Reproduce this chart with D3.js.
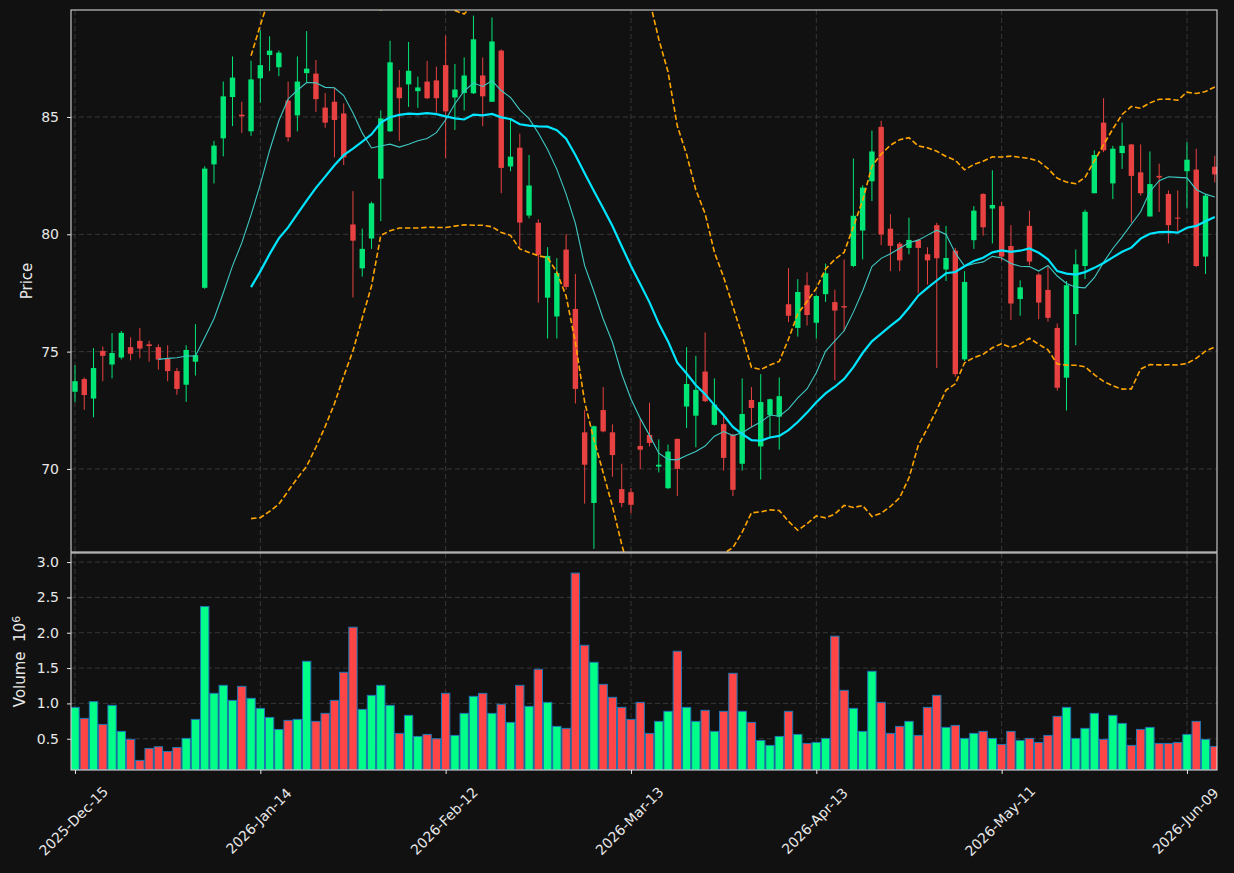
<!DOCTYPE html>
<html lang="en">
<head>
<meta charset="UTF-8">
<title>Candlestick</title>
<script src="https://cdn.jsdelivr.net/npm/d3@7"></script>
<style>
  body { margin: 0; background: #111111; }
  text { font-family: "DejaVu Sans", sans-serif; fill: #e8e8e8; }
</style>
</head>
<body>
<div id="chart"></div>
<script>
// daily bars, first session 2025-12-15
const startDay = "2025-12-15";
const holidays = ["2025-12-25", "2026-01-01", "2026-01-19", "2026-02-16", "2026-04-03", "2026-05-25"];

const open = [73.29, 73.83, 73.00, 75.03, 74.45, 74.75, 75.19, 75.46, 75.31, 75.19,
  74.70, 74.17, 73.59, 74.57, 77.72, 82.98, 84.09, 85.85, 85.10, 84.39,
  86.65, 87.64, 87.12, 85.70, 85.07, 86.87, 86.85, 85.40, 85.65, 85.15,
  80.42, 78.55, 79.82, 82.37, 84.39, 86.26, 86.39, 86.10, 86.51, 86.56,
  87.21, 85.83, 86.02, 86.01, 86.77, 85.65, 87.83, 82.89, 83.69, 80.80,
  80.49, 77.30, 76.50, 79.35, 76.82, 71.56, 68.55, 72.51, 71.56, 69.14,
  69.01, 70.98, 71.45, 70.10, 69.18, 71.28, 72.66, 72.27, 74.15, 71.88,
  71.91, 71.45, 70.22, 72.94, 70.96, 72.30, 72.23, 77.02, 76.01, 77.83,
  76.23, 77.45, 77.11, 76.94, 78.65, 80.16, 82.26, 84.58, 80.24, 79.60,
  79.42, 79.76, 79.15, 80.39, 78.50, 79.30, 74.67, 79.75, 81.72, 81.10,
  81.20, 79.50, 77.24, 80.36, 78.28, 77.63, 76.01, 73.89, 76.60, 78.65,
  81.75, 84.76, 82.17, 83.46, 83.83, 82.64, 80.76, 82.49, 81.72, 80.71,
  82.69, 82.76, 79.05, 82.88];
const high = [74.42, 73.90, 75.15, 75.22, 75.79, 75.88, 75.61, 76.01, 75.46, 75.31,
  75.27, 74.30, 75.27, 76.17, 82.90, 83.98, 86.51, 87.58, 85.65, 87.40,
  88.69, 88.44, 87.83, 86.51, 87.58, 88.66, 87.43, 86.02, 86.25, 85.58,
  81.84, 80.24, 81.39, 85.28, 88.25, 87.00, 88.20, 86.72, 87.39, 87.14,
  88.47, 87.26, 87.54, 89.32, 87.54, 89.24, 87.88, 84.87, 84.29, 83.38,
  80.64, 79.45, 78.98, 80.01, 78.31, 72.52, 71.85, 73.49, 71.90, 70.22,
  69.18, 72.15, 72.82, 71.26, 71.04, 71.30, 75.19, 74.82, 75.82, 73.86,
  72.23, 71.50, 73.86, 73.49, 74.04, 73.00, 73.90, 78.56, 78.09, 78.38,
  77.42, 78.75, 77.64, 78.93, 83.23, 82.09, 84.42, 84.84, 80.86, 79.67,
  80.71, 79.80, 79.45, 80.49, 80.36, 79.42, 78.43, 81.20, 81.75, 82.73,
  81.39, 80.39, 78.04, 81.01, 78.34, 78.63, 76.20, 78.01, 79.35, 81.05,
  83.58, 85.80, 83.77, 84.76, 83.85, 83.83, 83.53, 83.01, 81.87, 81.87,
  83.92, 83.65, 81.72, 83.35];
const low = [72.85, 72.52, 72.20, 73.74, 73.86, 74.67, 74.63, 74.72, 74.57, 74.23,
  73.74, 73.16, 72.86, 73.98, 77.68, 82.17, 83.32, 84.61, 84.32, 84.20,
  85.61, 86.96, 86.74, 83.95, 84.39, 86.47, 85.21, 84.54, 83.28, 82.95,
  77.31, 78.20, 79.38, 80.56, 84.36, 83.98, 85.43, 85.39, 85.76, 85.18,
  83.25, 84.45, 85.28, 85.98, 84.61, 85.65, 81.75, 82.69, 79.45, 80.68,
  77.09, 75.56, 75.56, 77.64, 72.79, 68.52, 66.59, 71.56, 69.67, 68.37,
  68.10, 70.00, 70.96, 69.85, 69.14, 68.84, 71.74, 70.92, 72.85, 71.85,
  69.93, 68.84, 69.93, 71.78, 69.55, 71.36, 70.82, 76.26, 75.64, 76.11,
  75.56, 77.12, 73.78, 75.86, 78.60, 78.93, 81.42, 79.54, 78.43, 78.43,
  79.15, 77.49, 77.86, 74.30, 78.01, 73.93, 74.60, 79.38, 79.94, 79.61,
  78.87, 76.35, 76.53, 78.68, 76.38, 76.28, 73.34, 72.49, 75.27, 78.09,
  81.75, 83.50, 81.50, 82.79, 80.50, 81.65, 80.76, 80.95, 79.61, 80.13,
  81.10, 78.60, 78.31, 82.21];
const close = [73.74, 73.15, 74.30, 74.82, 74.94, 75.80, 74.91, 75.13, 75.24, 74.66,
  74.17, 73.41, 75.07, 74.85, 82.80, 83.78, 85.88, 86.68, 85.03, 86.60,
  87.21, 87.83, 87.74, 84.14, 86.51, 87.06, 85.76, 84.76, 84.87, 83.28,
  79.73, 79.38, 81.32, 84.94, 87.33, 85.80, 86.97, 86.26, 85.80, 85.80,
  85.24, 86.17, 86.77, 88.31, 85.88, 88.22, 82.83, 83.31, 80.50, 82.08,
  79.12, 79.08, 78.35, 77.76, 73.41, 70.18, 71.82, 71.60, 70.59, 68.55,
  68.47, 70.82, 71.11, 70.18, 70.74, 70.00, 73.62, 73.37, 72.89, 72.74,
  70.47, 69.11, 72.34, 72.60, 72.85, 72.97, 73.10, 76.53, 77.54, 76.56,
  77.37, 78.34, 76.75, 76.88, 80.79, 81.99, 83.53, 79.99, 79.51, 78.89,
  79.76, 79.42, 78.89, 78.98, 78.99, 74.04, 77.97, 81.01, 80.30, 81.25,
  79.05, 77.05, 77.74, 78.84, 77.09, 76.44, 73.46, 77.83, 78.72, 80.96,
  83.38, 83.58, 83.65, 83.77, 82.49, 81.75, 82.14, 82.42, 80.39, 80.68,
  83.18, 78.65, 81.65, 82.55];
// volume in millions
const volume = [0.944, 0.788, 1.025, 0.703, 0.973, 0.604, 0.491, 0.193, 0.363, 0.387,
  0.320, 0.377, 0.505, 0.774, 2.371, 1.143, 1.256, 1.043, 1.242, 1.072,
  0.930, 0.802, 0.632, 0.760, 0.774, 1.596, 0.746, 0.859, 1.043, 1.440,
  2.078, 0.916, 1.114, 1.256, 0.973, 0.576, 0.831, 0.533, 0.561, 0.500,
  1.143, 0.547, 0.859, 1.100, 1.143, 0.859, 0.987, 0.732, 1.256, 0.958,
  1.483, 1.015, 0.675, 0.647, 2.844, 1.823, 1.582, 1.270, 1.086, 0.944,
  0.774, 1.015, 0.576, 0.746, 0.888, 1.738, 0.944, 0.746, 0.902, 0.604,
  0.888, 1.426, 0.888, 0.732, 0.476, 0.406, 0.533, 0.888, 0.561, 0.434,
  0.448, 0.505, 1.951, 1.185, 0.930, 0.604, 1.455, 1.015, 0.576, 0.675,
  0.746, 0.547, 0.944, 1.114, 0.661, 0.689, 0.505, 0.576, 0.604, 0.505,
  0.420, 0.604, 0.476, 0.505, 0.448, 0.547, 0.817, 0.944, 0.505, 0.647,
  0.859, 0.491, 0.831, 0.717, 0.406, 0.632, 0.661, 0.434, 0.434, 0.448,
  0.561, 0.746, 0.491, 0.391];

const priceTicks = [70, 75, 80, 85];
const volTicks = [0.5, 1.0, 1.5, 2.0, 2.5, 3.0];
const xTickIdx = [0, 20, 40, 60, 80, 100, 120];

// trading calendar
const parse = d3.timeParse("%Y-%m-%d");
const fmtKey = d3.timeFormat("%Y-%m-%d");
const dates = [];
for (let d = parse(startDay); dates.length < close.length; d = d3.timeDay.offset(d, 1)) {
  const wd = d.getDay();
  if (wd === 0 || wd === 6 || holidays.includes(fmtKey(d))) continue;
  dates.push(d);
}
const fmtTick = d3.timeFormat("%Y-%b-%d");

function rolling(arr, w, fn) {
  return arr.map((_, i) => i < w - 1 ? null : fn(arr.slice(i - w + 1, i + 1)));
}
const ma10 = rolling(close, 10, d3.mean);
const ma20 = rolling(close, 20, d3.mean);
const sd20 = rolling(close, 20, s => {
  const m = d3.mean(s);
  return Math.sqrt(d3.mean(s, v => (v - m) * (v - m)));
});
const bbUp = ma20.map((m, i) => m == null ? null : m + 2 * sd20[i]);
const bbLo = ma20.map((m, i) => m == null ? null : m - 2 * sd20[i]);

const W = 1234, H = 873;
const left = 71, right = 1217;
const pTop = 10, pBot = 552, vTop = 553, vBot = 770;

const svg = d3.select("#chart").append("svg")
  .attr("width", W).attr("height", H)
  .style("background", "#111111");

const x = d3.scaleLinear().domain([-0.43, 123.24]).range([left, right]);
const step = x(1) - x(0);
const y = d3.scaleLinear().domain([66.46, 89.56]).range([pBot, pTop]);
const yv = d3.scaleLinear()
  .domain([0.3 * d3.min(volume), 1.1 * d3.max(volume)])
  .range([vBot, vTop]);

const gridColor = "#3c3c3c";
const up = "#00e676", down = "#e84142";
const vUp = "#00ff88", vDown = "#ff4545";

// clip paths
const defs = svg.append("defs");
defs.append("clipPath").attr("id", "clipP").append("rect")
  .attr("x", left).attr("y", pTop).attr("width", right - left).attr("height", pBot - pTop);
defs.append("clipPath").attr("id", "clipV").append("rect")
  .attr("x", left).attr("y", vTop).attr("width", right - left).attr("height", vBot - vTop);

// grid
const grid = svg.append("g").attr("stroke", gridColor).attr("stroke-width", 0.9)
  .attr("stroke-dasharray", "5,3");
xTickIdx.forEach(i => {
  grid.append("line").attr("x1", x(i)).attr("x2", x(i)).attr("y1", pTop).attr("y2", pBot);
  grid.append("line").attr("x1", x(i)).attr("x2", x(i)).attr("y1", vTop).attr("y2", vBot);
});
priceTicks.forEach(t => grid.append("line").attr("x1", left).attr("x2", right).attr("y1", y(t)).attr("y2", y(t)));
volTicks.forEach(t => grid.append("line").attr("x1", left).attr("x2", right).attr("y1", yv(t)).attr("y2", yv(t)));

// candles
const idx = d3.range(close.length);
const candles = svg.append("g").attr("clip-path", "url(#clipP)");
const bodyW = 5.4;
candles.selectAll("line").data(idx).enter().append("line")
  .attr("x1", i => x(i)).attr("x2", i => x(i))
  .attr("y1", i => y(high[i])).attr("y2", i => y(low[i]))
  .attr("stroke", i => close[i] >= open[i] ? up : down)
  .attr("stroke-width", 1);
candles.selectAll("rect").data(idx).enter().append("rect")
  .attr("x", i => x(i) - bodyW / 2)
  .attr("width", bodyW)
  .attr("y", i => y(Math.max(open[i], close[i])))
  .attr("height", i => Math.max(1, y(Math.min(open[i], close[i])) - y(Math.max(open[i], close[i]))))
  .attr("fill", i => close[i] >= open[i] ? up : down);

// overlays
const lines = svg.append("g").attr("clip-path", "url(#clipP)").attr("fill", "none");
const lineGen = d3.line().defined(d => d != null).x((d, i) => x(i)).y(d => y(d));
lines.append("path").attr("d", lineGen(bbUp)).attr("stroke", "#ffa500")
  .attr("stroke-width", 1.6).attr("stroke-dasharray", "5.5,2.6");
lines.append("path").attr("d", lineGen(bbLo)).attr("stroke", "#ffa500")
  .attr("stroke-width", 1.6).attr("stroke-dasharray", "5.5,2.6");
lines.append("path").attr("d", lineGen(ma10)).attr("stroke", "#3fc9c4").attr("stroke-width", 1.1);
lines.append("path").attr("d", lineGen(ma20)).attr("stroke", "#00e5ff").attr("stroke-width", 2.2);

// volume
const vol = svg.append("g").attr("clip-path", "url(#clipV)");
const barW = step * 0.9;
vol.selectAll("rect").data(idx).enter().append("rect")
  .attr("x", i => x(i) - barW / 2)
  .attr("width", barW)
  .attr("y", i => yv(volume[i]))
  .attr("height", i => vBot - yv(volume[i]))
  .attr("fill", i => close[i] >= open[i] ? vUp : vDown)
  .attr("stroke", "#1f77b4").attr("stroke-width", 1);

// frames
const spine = "#e6e6e6";
svg.append("rect").attr("x", left).attr("y", pTop).attr("width", right - left).attr("height", pBot - pTop)
  .attr("fill", "none").attr("stroke", spine).attr("stroke-width", 1);
svg.append("rect").attr("x", left).attr("y", vTop).attr("width", right - left).attr("height", vBot - vTop)
  .attr("fill", "none").attr("stroke", spine).attr("stroke-width", 1);

// axes
function styleAxis(g) {
  g.select(".domain").remove();
  g.selectAll(".tick line").attr("stroke", spine);
  g.selectAll(".tick text").attr("fill", "#e8e8e8").style("font-size", "14px")
    .style("font-family", "DejaVu Sans, sans-serif");
}
svg.append("g").attr("transform", `translate(${left},0)`)
  .call(d3.axisLeft(y).tickValues(priceTicks).tickSize(4).tickPadding(8).tickFormat(d3.format("d")))
  .call(styleAxis);
svg.append("g").attr("transform", `translate(${left},0)`)
  .call(d3.axisLeft(yv).tickValues(volTicks).tickSize(4).tickPadding(8).tickFormat(d3.format(".1f")))
  .call(styleAxis);
const xa = svg.append("g").attr("transform", `translate(0,${vBot})`)
  .call(d3.axisBottom(x).tickValues(xTickIdx).tickSize(4).tickFormat(i => fmtTick(dates[i])))
  .call(styleAxis);
xa.selectAll(".tick text")
  .attr("y", 0).attr("dy", "0.35em")
  .attr("text-anchor", "middle")
  .attr("transform", "translate(-2,51) rotate(-45)");

// axis labels
svg.append("text").attr("transform", `translate(27,${(pTop + pBot) / 2}) rotate(-90)`)
  .attr("text-anchor", "middle").attr("dy", "0.35em").style("font-size", "15px").text("Price");
const vl = svg.append("text").attr("transform", `translate(20,${(vTop + vBot) / 2}) rotate(-90)`)
  .attr("text-anchor", "middle").attr("dy", "0.35em").style("font-size", "15px")
  .style("white-space", "pre");
vl.append("tspan").text("Volume  10");
vl.append("tspan").attr("dy", "-0.5em").style("font-size", "11px").text("6");
</script>
</body>
</html>
